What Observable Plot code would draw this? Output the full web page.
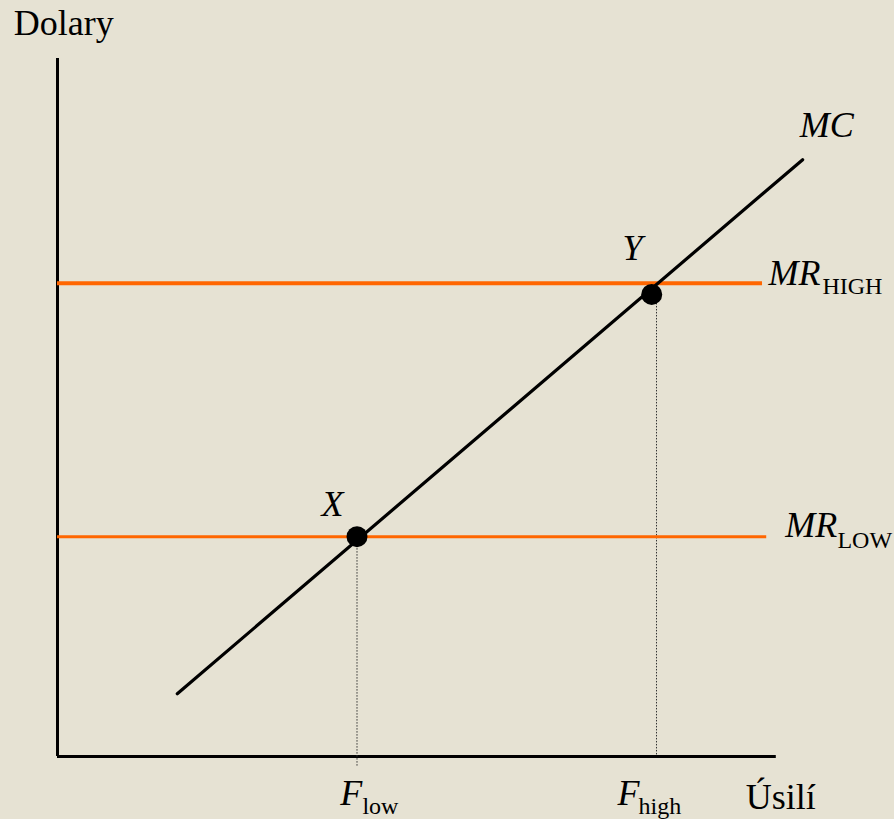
<!DOCTYPE html>
<html>
<head>
<meta charset="utf-8">
<script src="https://cdn.jsdelivr.net/npm/d3@7"></script>
<script src="https://cdn.jsdelivr.net/npm/@observablehq/plot@0.6"></script>
<style>
  html, body { margin: 0; padding: 0; background: #E6E2D3; }
  svg { display: block; }
</style>
</head>
<body>
<div id="chart"></div>
<script>
// Effort (x) and dollars (y) in arbitrary units
const mcEffort = [2.0, 12.44];
const mcDollars = [9.0, 85.5];
const mrHighLevel = 67.8;
const mrHighExtent = [0, 11.77];
const mrLowLevel = 31.5;
const mrLowExtent = [0, 11.84];
const pointNames = ["X", "Y"];
const pointEffort = [5.0, 9.92];
const pointDollars = [31.5, 66.2];
const dropEffort = [5.0, 10.0];
const dropBottom = [-1.45, 0];
const xAxisEnd = 12.0;
const yAxisTop = 100;

// Label texts and anchor positions (data units)
const mainLabels = ["Dolary", "MC", "X", "Y", "MR", "MR", "F", "F", "Úsilí"];
const mainLabelX = [-0.73, 12.39, 4.59, 9.6, 11.87, 12.15, 4.72, 9.35, 11.49];
const mainLabelY = [103.3, 88.8, 34.4, 71.2, 67.6, 31.4, -7.0, -7.0, -7.45];
const mainItalic = [false, true, true, true, true, true, true, true, false];
const mainAnchor = ["start", "start", "middle", "middle", "start", "start", "start", "start", "start"];
const subLabels = ["HIGH", "LOW", "low", "high"];
const subLabelX = [12.77, 13.02, 5.09, 9.70];
const subLabelY = [66.3, 29.9, -8.17, -8.17];

const mainData = mainLabels.map((t, i) => ({t, x: mainLabelX[i], y: mainLabelY[i], it: mainItalic[i], a: mainAnchor[i]}));
const subData = subLabels.map((t, i) => ({t, x: subLabelX[i], y: subLabelY[i]}));
const points = pointNames.map((n, i) => ({n, x: pointEffort[i], y: pointDollars[i]}));
const drops = points.map((p, i) => ({x: dropEffort[i], y1: p.y, y2: dropBottom[i]}));
const mc = mcEffort.map((x, i) => ({x, y: mcDollars[i]}));

const font = "'Liberation Serif', 'Times New Roman', serif";

const chart = Plot.plot({
  width: 894,
  height: 819,
  margin: 0,
  style: {background: "#E6E2D3", fontFamily: font},
  x: {type: "linear", domain: [0, 10], range: [57, 656], axis: null},
  y: {type: "linear", domain: [0, 100], range: [756, 58], axis: null},
  marks: [
    // axes
    Plot.ruleX([0], {y1: 0, y2: yAxisTop, stroke: "black", strokeWidth: 3}),
    Plot.ruleY([0], {x1: 0, x2: xAxisEnd, stroke: "black", strokeWidth: 3}),
    // dotted drop lines
    Plot.ruleX(drops, {x: "x", y1: "y1", y2: "y2", stroke: "#333", strokeWidth: 1, strokeDasharray: "1.5,1.5"}),
    // MR lines
    Plot.ruleY([mrHighLevel], {x1: mrHighExtent[0], x2: mrHighExtent[1], stroke: "#FF6600", strokeWidth: 4}),
    Plot.ruleY([mrLowLevel], {x1: mrLowExtent[0], x2: mrLowExtent[1], stroke: "#FF6600", strokeWidth: 3}),
    // MC line
    Plot.line(mc, {x: "x", y: "y", stroke: "black", strokeWidth: 3.2}),
    // points
    Plot.dot(points, {x: "x", y: "y", r: 10.5, fill: "black", stroke: "none"}),
    // main labels
    Plot.text(mainData.filter(d => d.it && d.a === "start"), {x: "x", y: "y", text: "t", textAnchor: "start", lineAnchor: "bottom", fontSize: 36, fontStyle: "italic", fill: "black", fontFamily: font}),
    Plot.text(mainData.filter(d => d.it && d.a === "middle"), {x: "x", y: "y", text: "t", textAnchor: "middle", lineAnchor: "bottom", fontSize: 36, fontStyle: "italic", fill: "black", fontFamily: font}),
    Plot.text(mainData.filter(d => !d.it), {x: "x", y: "y", text: "t", textAnchor: "start", lineAnchor: "bottom", fontSize: 36, fill: "black", fontFamily: font}),
    // subscripts
    Plot.text(subData, {x: "x", y: "y", text: "t", textAnchor: "start", lineAnchor: "bottom", fontSize: 24, fill: "black", fontFamily: font})
  ]
});
document.getElementById("chart").appendChild(chart);
</script>
</body>
</html>
